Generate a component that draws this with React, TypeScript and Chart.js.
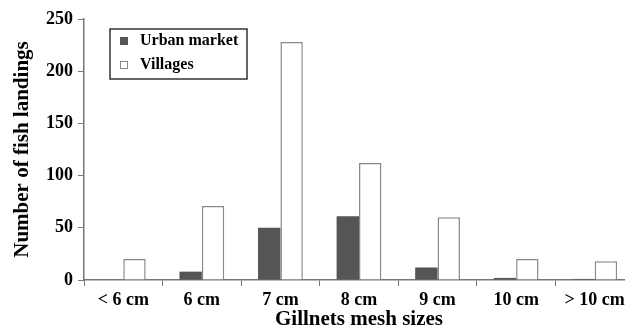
import React, { useEffect, useRef } from "react";
import { Chart, registerables } from "chart.js";

Chart.register(...registerables);

const categories = ["< 6 cm", "6 cm", "7 cm", "8 cm", "9 cm", "10 cm", "> 10 cm"];
const urbanMarket = [0, 8, 50, 61, 12, 2, 1];
const villages = [20, 71, 228, 112, 60, 20, 18];
const yTicks = [0, 50, 100, 150, 200, 250];

const FONT = "'Liberation Serif', 'Times New Roman', serif";

const boxLegend = {
  id: "boxLegend",
  afterDraw(chart: any) {
    const ctx = chart.ctx;
    const a = chart.chartArea;
    const x0 = a.left + 26;
    const y0 = a.top + 10;
    const w = 137;
    const h = 50;
    ctx.save();
    ctx.fillStyle = "#ffffff";
    ctx.fillRect(x0, y0, w, h);
    ctx.strokeStyle = "#333333";
    ctx.lineWidth = 1.5;
    ctx.strokeRect(x0, y0, w, h);
    ctx.font = `bold 16px ${FONT}`;
    ctx.textBaseline = "middle";
    chart.data.datasets.forEach((ds: any, i: number) => {
      const cy = y0 + 12 + i * 24;
      ctx.fillStyle = ds.backgroundColor;
      ctx.fillRect(x0 + 10, cy - 4, 8, 8);
      ctx.strokeStyle = ds.borderColor;
      ctx.lineWidth = 1;
      ctx.strokeRect(x0 + 10.5, cy - 3.5, 7, 7);
      ctx.fillStyle = "#000000";
      ctx.fillText(ds.label, x0 + 30, cy);
    });
    ctx.restore();
  },
};

export default function App() {
  const ref = useRef<HTMLCanvasElement>(null);
  useEffect(() => {
    const chart = new Chart(ref.current!, {
      type: "bar",
      data: {
        labels: categories,
        datasets: [
          {
            label: "Urban market",
            data: urbanMarket,
            backgroundColor: "#555555",
            borderColor: "#555555",
            borderWidth: 0,
          },
          {
            label: "Villages",
            data: villages,
            backgroundColor: "#ffffff",
            borderColor: "#8a8a8a",
            borderWidth: 1.5,
          },
        ],
      },
      options: {
        animation: false,
        responsive: false,
        datasets: { bar: { categoryPercentage: 0.57, barPercentage: 1 } },
        layout: { padding: { top: 19, right: 16, left: 0, bottom: 0 } },
        plugins: { legend: { display: false }, tooltip: { enabled: false } },
        scales: {
          x: {
            grid: {
              display: true,
              drawOnChartArea: false,
              drawTicks: true,
              tickLength: 6,
              offset: true,
              color: "#777777",
            },
            border: { display: true, color: "#777777", width: 1.5 },
            ticks: {
              color: "#000000",
              font: { family: FONT, weight: "bold", size: 18 },
              padding: 4,
              maxRotation: 0,
              autoSkip: false,
            },
            title: {
              display: true,
              text: "Gillnets mesh sizes",
              color: "#000000",
              font: { family: FONT, weight: "bold", size: 21 },
              padding: { top: 0, bottom: 2 },
            },
            afterFit: (s: any) => {
              s.height = 54;
            },
          },
          y: {
            min: 0,
            max: 250,
            afterBuildTicks: (s: any) => {
              s.ticks = yTicks.map((v) => ({ value: v }));
            },
            grid: {
              display: true,
              drawOnChartArea: false,
              drawTicks: true,
              tickLength: 6,
              color: "#777777",
            },
            border: { display: true, color: "#777777", width: 1.5 },
            ticks: {
              color: "#000000",
              font: { family: FONT, weight: "bold", size: 18 },
              padding: 5,
            },
            title: {
              display: true,
              text: "Number of fish landings",
              color: "#000000",
              font: { family: FONT, weight: "bold", size: 21 },
              padding: { top: 10, bottom: 0 },
            },
            afterFit: (s: any) => {
              s.width = 84;
            },
          },
        },
      },
      plugins: [boxLegend],
    });
    return () => chart.destroy();
  }, []);
  return (
    <div style={{ position: "fixed", left: 0, top: 0, width: 625, height: 334, overflow: "hidden", background: "#fff" }}>
      <canvas ref={ref} width={650} height={334} style={{ width: 650, height: 334, display: "block" }} />
    </div>
  );
}
